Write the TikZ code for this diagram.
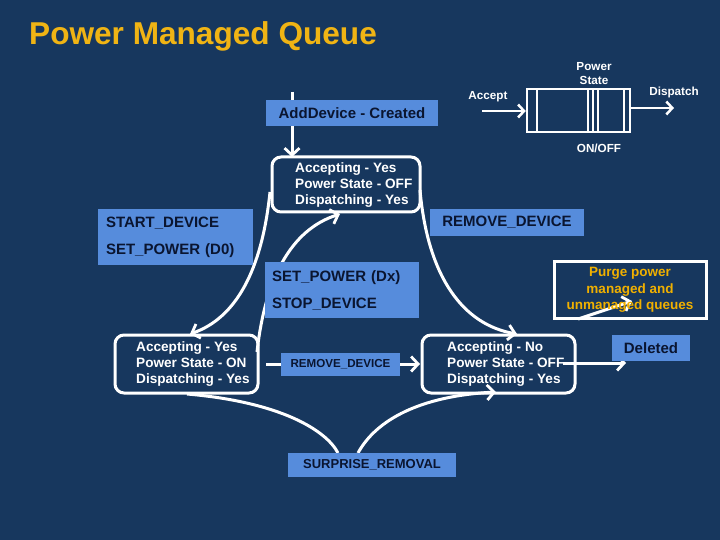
\documentclass[tikz,border=0pt]{standalone}
\usepackage{fontspec}
\setmainfont{Liberation Sans}
\usetikzlibrary{arrows.meta}
\definecolor{bg}{HTML}{17375E}
\definecolor{tagblue}{HTML}{568CDC}
\definecolor{tagtext}{HTML}{0A1530}
\definecolor{titlecol}{HTML}{F0B414}
\definecolor{purgecol}{HTML}{F0B000}
\begin{document}
\begin{tikzpicture}[x=1pt,y=-1pt,
  statebox/.style={draw=white,line width=3pt,rounded corners=9pt,inner sep=0pt},
  statetext/.style={text=white,font=\bfseries\fontsize{13.6}{16}\selectfont,align=left,anchor=west,inner sep=0pt},
  tag/.style={fill=tagblue,text=tagtext,font=\bfseries\fontsize{15}{27}\selectfont,inner sep=0pt},
  conn/.style={white,line width=3pt,-{Straight Barb[length=7pt,width=15pt,line width=2.8pt]}},
  plain/.style={white,line width=3pt},
  small/.style={text=white,font=\bfseries\fontsize{11.7}{14}\selectfont,inner sep=0pt,align=center},
  qconn/.style={white,line width=2.8pt,-{Straight Barb[length=6pt,width=13pt,line width=2.5pt]}}
]
\fill[bg] (0,0) rectangle (720,540);
\useasboundingbox (0,0) rectangle (720,540);

% title
\node[anchor=west,inner sep=0pt,text=titlecol,font=\bfseries\fontsize{31.6}{36}\selectfont] (title) at (29,36) {Power Managed Queue};

% states
\node[statebox,minimum width=148pt,minimum height=55pt] (top) at (346,184.5) {};
\node[statetext] (toptxt) at (295,185) {Accepting - Yes\\Power State - OFF\\Dispatching - Yes};
\node[statebox,minimum width=143pt,minimum height=58pt] (left) at (186.5,364) {};
\node[statetext] (lefttxt) at (136,364) {Accepting - Yes\\Power State - ON\\Dispatching - Yes};
\node[statebox,minimum width=153pt,minimum height=58pt] (right) at (498.5,364) {};
\node[statetext] (righttxt) at (447,364) {Accepting - No\\Power State - OFF\\Dispatching - Yes};

% coordinates for connectors
\coordinate (addstart) at (292,92);
\coordinate (addend) at (292,157);
\coordinate (sdA) at (270,192);
\coordinate (sdB) at (190,334);
\coordinate (rdA) at (420,190);
\coordinate (rdB) at (517,334);
\coordinate (spA) at (257,352);
\coordinate (spB) at (340,214);
\coordinate (hA) at (266,364);
\coordinate (hB) at (420,364);
\coordinate (delA) at (563,363);
\coordinate (delB) at (626,363);
\coordinate (srA) at (187,394);
\coordinate (srL) at (338,453);
\coordinate (srR) at (358,453);
\coordinate (srB) at (496,392);
\coordinate (pgA) at (578,319);
\coordinate (pgB) at (632,301);

% connectors
\draw[conn] (addstart) -- (addend);
\draw[conn] (sdA) .. controls (262,270) and (236,318) .. (sdB);
\draw[conn] (rdA) .. controls (428,280) and (465,325) .. (rdB);
\draw[conn] (spA) .. controls (265,280) and (290,230) .. (spB);
\draw[conn] (hA) -- (hB);
\draw[conn] (delA) -- (delB);
\draw[plain] (srA) .. controls (280,402) and (326,430) .. (srL);
\draw[conn] (srR) .. controls (376,420) and (420,396) .. (srB);

% labels
\node[tag,minimum width=172pt,minimum height=26pt] (add) at (352,113) {AddDevice - Created};
\node[tag,minimum width=155pt,minimum height=56pt,text width=139pt,align=left] (start) at (175.5,237) {START\_DEVICE\\SET\_POWER (D0)};
\node[tag,minimum width=154pt,minimum height=56pt,text width=140pt,align=left] (setp) at (342,290) {SET\_POWER (Dx)\\STOP\_DEVICE};
\node[tag,minimum width=154pt,minimum height=27pt] (remtop) at (507,222.5) {REMOVE\_DEVICE};
\node[tag,minimum width=119pt,minimum height=23pt,font=\bfseries\fontsize{11.6}{14}\selectfont] (remmid) at (340.5,364.5) {REMOVE\_DEVICE};
\node[tag,minimum width=168pt,minimum height=24pt,font=\bfseries\fontsize{13}{15}\selectfont] (surp) at (372,465) {SURPRISE\_REMOVAL};
\node[tag,minimum width=78pt,minimum height=26pt] (del) at (651,348) {Deleted};

% purge box
\node[draw=white,line width=3pt,minimum width=152pt,minimum height=57pt,inner sep=0pt] (purge) at (630,289.5) {};
\draw[conn] (pgA) -- (pgB);
\node[text=purgecol,font=\bfseries\fontsize{13.5}{16.5}\selectfont,align=center,inner sep=0pt] (purgetxt) at (630,290) {Purge power\\managed and\\unmanaged queues};

% queue diagram
\node[draw=white,line width=2.5pt,minimum width=103pt,minimum height=43pt,inner sep=0pt] (q) at (578.5,110.5) {};
\draw[white,line width=2.5pt] (593,89) -- (593,132);
\draw[white,line width=2.2pt] (537,89) -- (537,132) (588,89) -- (588,132) (598,89) -- (598,132) (624,89) -- (624,132);
\node[small] (ps) at (594,74) {Power\\State};
\node[small] (acc) at (488,97) {Accept};
\node[small] (disp) at (674,92) {Dispatch};
\node[small] (onoff) at (599,148) {ON/OFF};
\coordinate (accA) at (482,111);
\coordinate (dispB) at (674,108);
\draw[qconn] (accA) -- (accA -| q.west);
\draw[qconn] (dispB -| q.east) -- (dispB);
\end{tikzpicture}
\end{document}
